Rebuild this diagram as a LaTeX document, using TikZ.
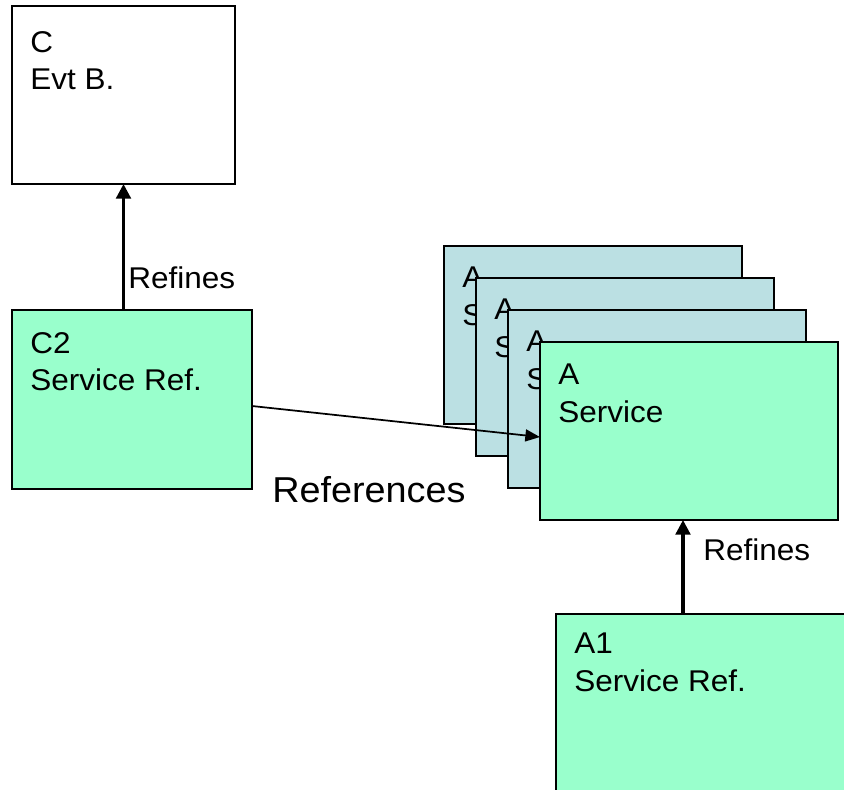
\documentclass[tikz,border=0pt]{standalone}
\usepackage{fontspec}
\setmainfont{Liberation Sans}[FakeStretch=1.05]
\usetikzlibrary{arrows.meta,calc}
\definecolor{mint}{RGB}{153,255,204}
\definecolor{stackblue}{RGB}{187,224,227}
\begin{document}
\begin{tikzpicture}[x=0.75pt,y=-0.75pt,
  box/.style={draw=black, line width=1.9pt, rectangle, inner sep=0pt, outer sep=0pt, anchor=north west},
  bigbox/.style={box, minimum width=223.5pt, minimum height=133.5pt},
  txt/.style={anchor=north west, inner sep=0pt, align=left, font=\fontsize{22.5}{28}\selectfont},
  lbl/.style={anchor=base west, inner sep=0pt, font=\fontsize{22.5}{28}\selectfont},
  arr/.style={-{Triangle[length=11pt,width=11pt]}, line width=2.4pt},
  refarr/.style={-{Triangle[length=11pt,width=9pt]}, line width=1.3pt}
]
\useasboundingbox (0,0) rectangle (844,790);

% C box
\node[box, fill=white, minimum width=167.25pt, minimum height=133.5pt] (c) at (12,6) {};
\node[txt] (ct) at (30,31) {C\\Evt B.};

% C2 box
\node[box, fill=mint, minimum width=180pt, minimum height=134.25pt] (c2) at (12,310) {};
\node[txt] (c2t) at (30,332) {C2\\Service Ref.};

% stacked A boxes (only the visible part of the hidden texts)
\node[bigbox, fill=stackblue] (a1s) at (444,246) {};
\node[txt] (a1st) at (462,267) {A\\S};
\node[bigbox, fill=stackblue] (a2s) at (476,278) {};
\node[txt] (a2st) at (494,299) {A\\S};
\node[bigbox, fill=stackblue] (a3s) at (508,310) {};
\node[txt] (a3st) at (526,331) {A\\S};
\node[bigbox, fill=mint] (a4) at (540,342) {};
\node[txt] (a4t) at (558,364) {A\\Service};

% A1 box (cut off by the page edge)
\node[box, fill=mint, minimum width=240pt, minimum height=150pt] (a1) at (556,614) {};
\node[txt] (a1t) at (574,633) {A1\\Service Ref.};

% connectors
\draw[arr] (c2.north -| c.south) -- (c.south);
\node[lbl] (r1) at (128,288) {Refines};

\draw[arr] ($(a1.north west)+(127,0)$) -- ($(a4.south west)+(143,0)$);
\node[lbl] (r2) at (703,560) {Refines};

\draw[refarr] ($(c2.north east)+(0,96)$) -- ($(a4.north west)+(0,95)$);
\node[anchor=base west, inner sep=0pt, font=\fontsize{27}{32}\selectfont] (refs) at (272,502) {References};
\end{tikzpicture}
\end{document}
